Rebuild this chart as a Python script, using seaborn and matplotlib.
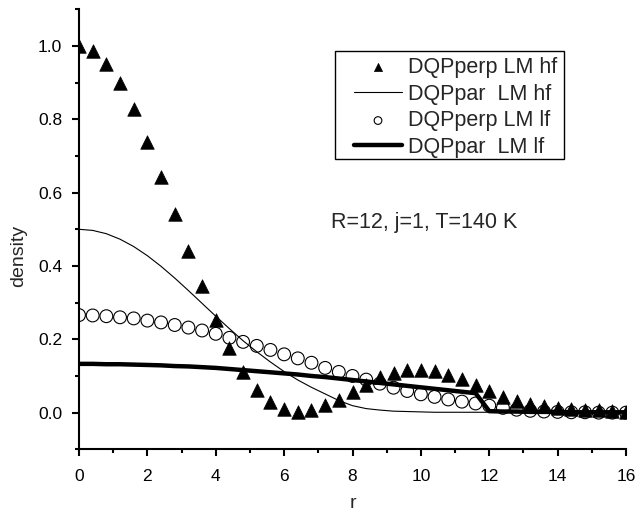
import numpy as np
import pandas as pd
import matplotlib
matplotlib.use("Agg")
import matplotlib.pyplot as plt
from matplotlib.ticker import MultipleLocator, FormatStrFormatter
from matplotlib.patches import Rectangle
import seaborn as sns

# ---- data ----
r = [round(0.4 * i, 1) for i in range(41)]

perp_hf = [1.000, 0.987, 0.952, 0.898, 0.827, 0.738, 0.644, 0.543, 0.440, 0.345,
           0.254, 0.176, 0.112, 0.062, 0.030, 0.009, 0.003, 0.006, 0.021, 0.035,
           0.055, 0.076, 0.097, 0.108, 0.115, 0.117, 0.113, 0.104, 0.091, 0.075,
           0.059, 0.044, 0.033, 0.024, 0.019, 0.014, 0.010, 0.008, 0.006, 0.005,
           0.003]

par_hf = [0.500, 0.497, 0.488, 0.473, 0.453, 0.428, 0.399, 0.367, 0.333, 0.298,
          0.263, 0.229, 0.196, 0.166, 0.138, 0.112, 0.089, 0.069, 0.051, 0.033,
          0.019, 0.011, 0.007, 0.004, 0.003, 0.002, 0.001, 0.001, 0.001, 0.001,
          0.001, 0.001, 0.000, 0.000, 0.000, 0.000, 0.000, 0.000, 0.000, 0.000,
          0.000]

perp_lf = [0.266, 0.265, 0.263, 0.260, 0.257, 0.251, 0.246, 0.239, 0.232, 0.224,
           0.215, 0.204, 0.193, 0.182, 0.171, 0.159, 0.148, 0.136, 0.122, 0.111,
           0.100, 0.090, 0.079, 0.068, 0.059, 0.050, 0.043, 0.036, 0.030, 0.025,
           0.019, 0.013, 0.008, 0.005, 0.003, 0.002, 0.001, 0.001, 0.000, 0.000,
           0.000]

par_lf = [0.133, 0.133, 0.132, 0.132, 0.131, 0.130, 0.129, 0.127, 0.126, 0.124,
          0.122, 0.119, 0.116, 0.113, 0.110, 0.107, 0.104, 0.100, 0.097, 0.093,
          0.089, 0.085, 0.081, 0.077, 0.073, 0.069, 0.065, 0.061, 0.057, 0.053,
          0.004, 0.003, 0.003, 0.002, 0.002, 0.002, 0.001, 0.001, 0.001, 0.001,
          0.001]

labels = ["DQPperp LM hf", "DQPpar  LM hf", "DQPperp LM lf", "DQPpar  LM lf"]
annotation = "R=12, j=1, T=140 K"
x_label = "r"
y_label = "density"

df = pd.DataFrame({"r": r, "perp_hf": perp_hf, "par_hf": par_hf,
                   "perp_lf": perp_lf, "par_lf": par_lf})

# ---- style ----
sns.set_style("ticks")
plt.rcParams["font.family"] = ["Liberation Sans", "DejaVu Sans"]

fig = plt.figure(figsize=(6.35, 5.15), dpi=100)
ax = fig.add_axes([79 / 635, 1 - 449.3 / 515, 547 / 635, 440 / 515])

sns.scatterplot(data=df, x="r", y="perp_hf", marker="^", s=95, color="black",
                edgecolor="black", linewidth=0.5, ax=ax, label=labels[0], zorder=3)
sns.lineplot(data=df, x="r", y="par_hf", color="black", linewidth=0.8,
             ax=ax, label=labels[1], zorder=2)
sns.scatterplot(data=df, x="r", y="perp_lf", marker="o", s=85, facecolor="none",
                edgecolor="black", linewidth=0.8, ax=ax, label=labels[2], zorder=4)
sns.lineplot(data=df, x="r", y="par_lf", color="black", linewidth=3.2,
             ax=ax, label=labels[3], zorder=5)

ax.set_xlim(0, 16)
ax.set_ylim(-0.1, 1.1)
ax.xaxis.set_major_locator(MultipleLocator(2))
ax.xaxis.set_minor_locator(MultipleLocator(1))
ax.yaxis.set_major_formatter(FormatStrFormatter("%.1f"))
ax.set_yticks([0.0, 0.2, 0.4, 0.6, 0.8, 1.0])
ax.set_yticks(np.arange(-0.1, 1.15, 0.1), minor=True)

for s in ["top", "right"]:
    ax.spines[s].set_visible(False)
for s in ["left", "bottom"]:
    ax.spines[s].set_linewidth(1.5)
    ax.spines[s].set_color("black")

ax.tick_params(which="major", direction="out", length=5, width=1.5,
               labelsize=12.5, colors="black")
ax.tick_params(axis="y", which="major", pad=7)
ax.tick_params(axis="x", which="major", pad=9)
ax.tick_params(which="minor", direction="out", length=3, width=1.5, colors="black")

ax.set_xlabel(x_label, fontsize=14, labelpad=8)
ax.set_ylabel(y_label, fontsize=14)
ax.yaxis.set_label_coords(-0.094, 0.44)

ax.text(0.46, 0.515, annotation, transform=ax.transAxes, fontsize=15.5,
        ha="left", va="center")

leg = ax.legend(loc="upper left", bbox_to_anchor=((354 - 79) / 547, (449.3 - 57) / 440),
                borderaxespad=0, fontsize=15.5, frameon=False, handlelength=2.23,
                handletextpad=0.28, labelspacing=0.26, borderpad=0,
                markerscale=0.6)

ax.add_patch(Rectangle(((335 - 79) / 547, (449.3 - 159.3) / 440),
                       (564 - 335) / 547, (159.3 - 50.7) / 440,
                       transform=ax.transAxes, fill=False, edgecolor="black",
                       linewidth=1.0, zorder=6, clip_on=False))

fig.savefig("out.png", dpi=100)
